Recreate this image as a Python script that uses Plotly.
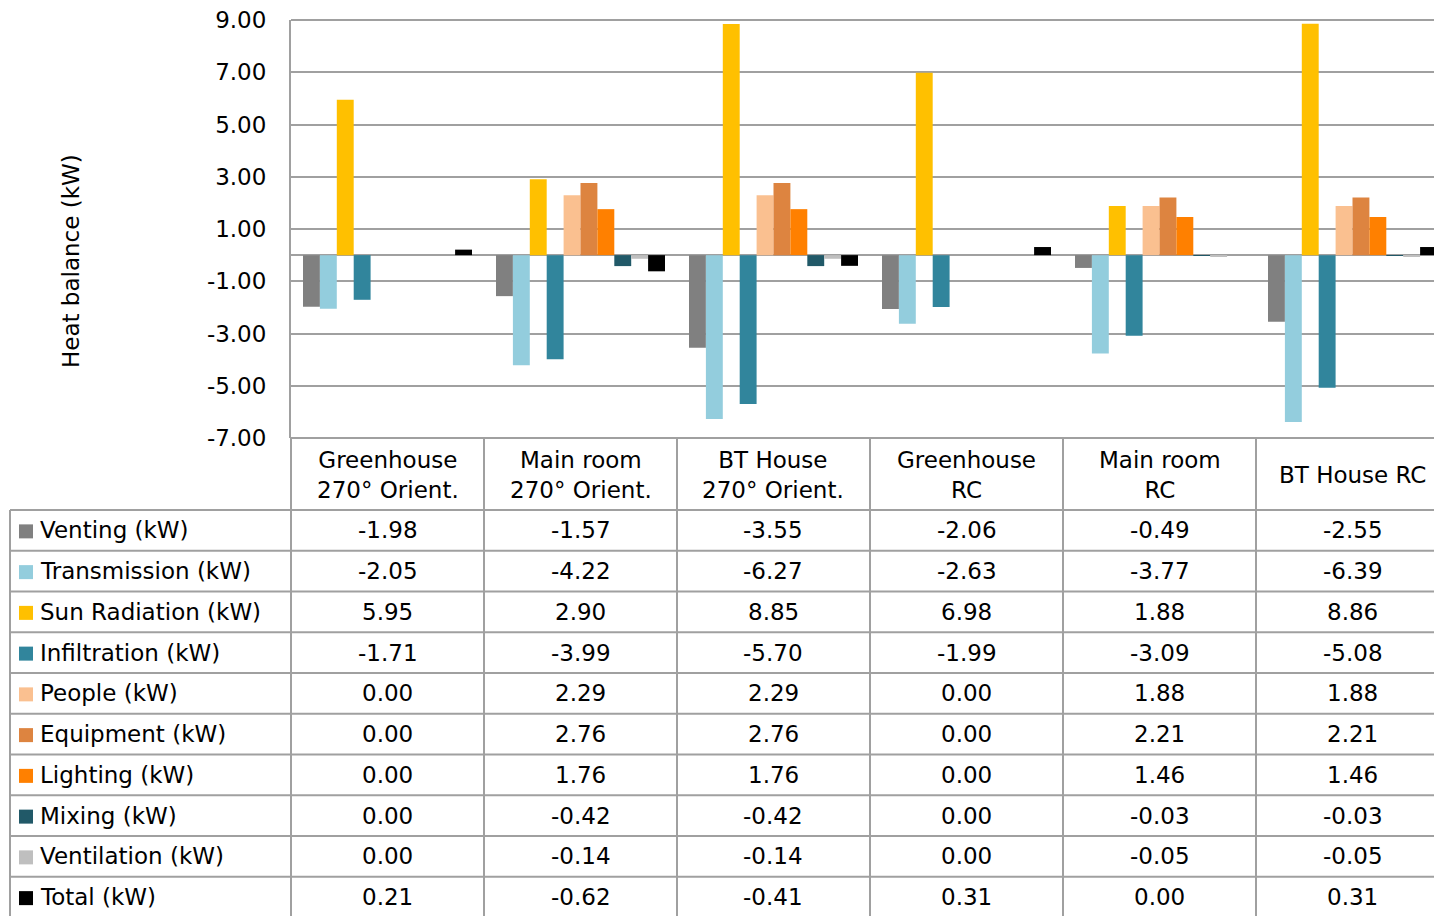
import plotly.graph_objects as go

# Scenario columns and their header text
scenarios = ["Greenhouse<br>270° Orient.", "Main room<br>270° Orient.", "BT House<br>270° Orient.",
             "Greenhouse<br>RC", "Main room<br>RC", "BT House RC"]

# Heat balance components (kW) per scenario
series_names = ["Venting (kW)", "Transmission (kW)", "Sun Radiation (kW)", "Infiltration (kW)",
                "People (kW)", "Equipment (kW)", "Lighting (kW)", "Mixing (kW)",
                "Ventilation (kW)", "Total (kW)"]
venting = [-1.98, -1.57, -3.55, -2.06, -0.49, -2.55]
transmission = [-2.05, -4.22, -6.27, -2.63, -3.77, -6.39]
sun_radiation = [5.95, 2.90, 8.85, 6.98, 1.88, 8.86]
infiltration = [-1.71, -3.99, -5.70, -1.99, -3.09, -5.08]
people = [0.00, 2.29, 2.29, 0.00, 1.88, 1.88]
equipment = [0.00, 2.76, 2.76, 0.00, 2.21, 2.21]
lighting = [0.00, 1.76, 1.76, 0.00, 1.46, 1.46]
mixing = [0.00, -0.42, -0.42, 0.00, -0.03, -0.03]
ventilation = [0.00, -0.14, -0.14, 0.00, -0.05, -0.05]
total = [0.21, -0.62, -0.41, 0.31, 0.00, 0.31]

y_ticks = [9, 7, 5, 3, 1, -1, -3, -5, -7]

series_values = [venting, transmission, sun_radiation, infiltration, people,
                 equipment, lighting, mixing, ventilation, total]
colors = ["#808080", "#93CDDD", "#FFC000", "#31859C", "#FAC090",
          "#DD8440", "#FF8000", "#215968", "#BFBFBF", "#000000"]

W, H = 1434, 916
FONT = "DejaVu Sans"
FS = 23
GRID = "#A0A0A0"


def px(x):
    return x / W


def py(y):
    return 1 - y / H


plot_left, plot_top, plot_bottom = 291, 20, 438
col_w = 193
header_bottom = 510
row_h = 40.75
label_left = 10

x_idx = list(range(len(scenarios)))

fig = go.Figure()
for name, vals, col in zip(series_names, series_values, colors):
    fig.add_trace(go.Bar(x=x_idx, y=vals, name=name, marker=dict(color=col, line=dict(width=0)),
                         showlegend=False))

x_units = (W - plot_left) / col_w

fig.update_layout(
    width=W, height=H,
    margin=dict(l=0, r=0, t=0, b=0, autoexpand=False),
    paper_bgcolor="white", plot_bgcolor="white",
    barmode="group", bargap=24 / col_w, bargroupgap=0,
    font=dict(family=FONT, size=FS, color="#000000"),
    xaxis=dict(domain=[px(plot_left), 1], range=[-0.5, -0.5 + x_units], automargin=False,
               showticklabels=False, showgrid=False, zeroline=False, showline=False, fixedrange=True),
    yaxis=dict(domain=[py(plot_bottom), py(plot_top)], range=[-7, 9], automargin=False,
               tickvals=y_ticks, ticktext=[f"{v:.2f}" for v in y_ticks],
               showgrid=True, gridcolor=GRID, gridwidth=2,
               zeroline=True, zerolinecolor=GRID, zerolinewidth=2,
               showline=True, linecolor=GRID, linewidth=2,
               ticks="", ticklabelstandoff=18,
               tickfont=dict(family=FONT, size=FS, color="#000000")),
)

shapes = []
line = dict(color=GRID, width=2)
# top border of plot
shapes.append(dict(type="line", xref="paper", yref="paper", x0=px(plot_left), x1=1,
                   y0=py(plot_top), y1=py(plot_top), line=line))
# table horizontal rules
shapes.append(dict(type="line", xref="paper", yref="paper", x0=px(plot_left), x1=1,
                   y0=py(plot_bottom), y1=py(plot_bottom), line=line))
n_rows = len(series_names)
for r in range(n_rows):
    y = header_bottom + r * row_h
    shapes.append(dict(type="line", xref="paper", yref="paper", x0=px(label_left), x1=1,
                       y0=py(y), y1=py(y), line=line))
# table vertical rules
shapes.append(dict(type="line", xref="paper", yref="paper", x0=px(label_left), x1=px(label_left),
                   y0=py(header_bottom), y1=0, line=line))
shapes.append(dict(type="line", xref="paper", yref="paper", x0=px(plot_left), x1=px(plot_left),
                   y0=py(plot_bottom), y1=0, line=line))
for c in range(1, len(scenarios)):
    x = plot_left + c * col_w
    shapes.append(dict(type="line", xref="paper", yref="paper", x0=px(x), x1=px(x),
                       y0=py(plot_bottom), y1=0, line=line))

annotations = []
# column headers
for c, head in enumerate(scenarios):
    cx = plot_left + (c + 0.5) * col_w
    annotations.append(dict(xref="paper", yref="paper", x=px(cx), y=py((plot_bottom + header_bottom) / 2 + 1),
                            text=head, showarrow=False, xanchor="center", yanchor="middle",
                            align="center", font=dict(size=FS)))
# rows: legend key, label, values
for r, (name, vals, col) in enumerate(zip(series_names, series_values, colors)):
    cy = header_bottom + (r + 0.5) * row_h
    shapes.append(dict(type="rect", xref="paper", yref="paper",
                       x0=px(19), x1=px(33), y0=py(cy - 6), y1=py(cy + 8),
                       fillcolor=col, line=dict(width=0)))
    annotations.append(dict(xref="paper", yref="paper", x=px(38), y=py(cy), text=name,
                            showarrow=False, xanchor="left", yanchor="middle", font=dict(size=FS)))
    for c, v in enumerate(vals):
        cx = plot_left + (c + 0.5) * col_w
        annotations.append(dict(xref="paper", yref="paper", x=px(cx), y=py(cy), text=f"{v:.2f}",
                                showarrow=False, xanchor="center", yanchor="middle", font=dict(size=FS)))
# y-axis title
annotations.append(dict(xref="paper", yref="paper", x=px(71), y=py(261), text="Heat balance (kW)",
                        textangle=-90, showarrow=False, xanchor="center", yanchor="middle",
                        font=dict(size=FS)))

fig.update_layout(shapes=shapes, annotations=annotations)
fig.write_html("out.html")
